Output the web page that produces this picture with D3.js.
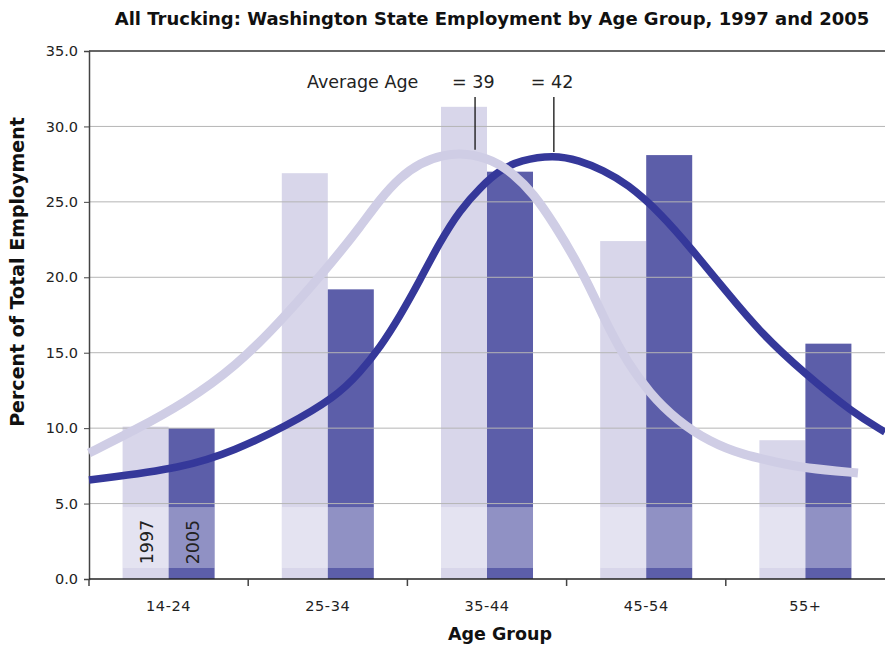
<!DOCTYPE html>
<html>
<head>
<meta charset="utf-8">
<script src="https://cdn.jsdelivr.net/npm/d3@7"></script>
<style>
  body { margin: 0; background: #fff; }
  svg { font-family: "DejaVu Sans", Verdana, sans-serif; }
</style>
</head>
<body>
<svg id="chart" width="885" height="645"></svg>
<script>
// age groups and bar values (percent of total employment)
const ageGroups = ["14-24", "25-34", "35-44", "45-54", "55+"];
const years = ["1997", "2005"];
const share1997 = [10.1, 26.9, 31.3, 22.4, 9.2];
const share2005 = [10.0, 19.2, 27.0, 28.1, 15.6];

// fitted curves, x in age-group units (0 = left edge of 14-24)
const curve1997 = [
  [0.0, 8.35], [0.29, 9.88], [0.6, 11.67], [0.92, 14.05], [1.23, 17.37],
  [1.55, 21.3], [1.7, 23.3], [1.83, 25.2], [1.95, 26.6], [2.08, 27.58],
  [2.22, 28.11], [2.37, 28.24], [2.54, 27.77], [2.66, 26.91], [2.79, 25.59],
  [2.93, 23.4], [3.06, 21.1], [3.17, 18.8], [3.27, 16.5], [3.38, 14.4],
  [3.52, 12.33], [3.69, 10.54], [3.9, 9.08], [4.11, 8.22], [4.34, 7.69],
  [4.49, 7.36], [4.83, 7.03]
];
const curve2005 = [
  [0.0, 6.56], [0.6, 7.36], [0.92, 8.55], [1.23, 10.08], [1.55, 12.06],
  [1.7, 13.66], [1.83, 15.38], [1.95, 17.37], [2.08, 19.82], [2.2, 22.27],
  [2.33, 24.46], [2.46, 25.98], [2.58, 27.11], [2.71, 27.77], [2.92, 28.11],
  [3.08, 27.75], [3.23, 27.1], [3.38, 26.2], [3.59, 24.26], [3.79, 21.81],
  [4.01, 18.96], [4.22, 16.31], [4.49, 13.66], [4.8, 11.0], [5.0, 9.74]
];

// average age markers
const avgLabels = ["= 39", "= 42"];
const avgPos = [2.425, 2.92];
const avgBottom = [28.45, 28.3];
const yTicks = [0, 5, 10, 15, 20, 25, 30, 35];

(function () {
  const svg = d3.select("#chart");
  const plotLeft = 89, plotRight = 885, plotTop = 51, plotBottom = 579;

  const x = d3.scaleLinear().domain([0, 5]).range([plotLeft, plotRight]);
  const band = d3.scaleBand().domain(ageGroups).range([plotLeft, plotRight])
    .paddingInner(0.422).paddingOuter(0.211);
  const sub = d3.scaleBand().domain(years).range([0, band.bandwidth()]);
  const y = d3.scaleLinear().domain([0, 35]).range([plotBottom, plotTop]);

  const colors = { "1997": "#d8d6ea", "2005": "#5c5ea9" };

  // bars
  const rows = ageGroups.map((g, i) => ({ group: g, vals: [share1997[i], share2005[i]] }));
  const groups = svg.append("g").selectAll("g").data(rows).join("g")
    .attr("transform", d => `translate(${band(d.group)},0)`);
  groups.selectAll("rect").data(d => d.vals.map((v, k) => ({ year: years[k], v })))
    .join("rect")
    .attr("x", d => sub(d.year))
    .attr("width", sub.bandwidth())
    .attr("y", d => y(d.v))
    .attr("height", d => y(0) - y(d.v))
    .attr("fill", d => colors[d.year]);

  // pale band near the base of the bars
  groups.append("rect")
    .attr("x", 0)
    .attr("width", band.bandwidth())
    .attr("y", y(4.77))
    .attr("height", y(0.73) - y(4.77))
    .attr("fill", "#fff")
    .attr("opacity", 0.32);

  // year labels inside the first pair of bars
  svg.append("g").selectAll("text").data(years).join("text")
    .attr("transform", d => `translate(${band(ageGroups[0]) + sub(d) + sub.bandwidth() / 2 + 7},${y(2.45)}) rotate(-90)`)
    .attr("text-anchor", "middle")
    .attr("font-size", 17.5)
    .attr("fill", "#222")
    .text(d => d);

  // gridlines
  svg.append("g").selectAll("line").data(yTicks.filter(t => t > 0)).join("line")
    .attr("x1", plotLeft).attr("x2", plotRight)
    .attr("y1", d => y(d)).attr("y2", d => y(d))
    .attr("stroke", d => d === 35 ? "#333" : "#b5b5b5")
    .attr("stroke-width", d => d === 35 ? 1.5 : 1);

  // y axis
  const yAxis = svg.append("g").attr("transform", `translate(${plotLeft},0)`)
    .call(d3.axisLeft(y).tickValues(yTicks).tickFormat(d3.format(".1f")).tickSize(5).tickPadding(6));
  yAxis.select(".domain").attr("stroke", "#444").attr("stroke-width", 1.5);
  yAxis.selectAll(".tick line").attr("stroke", "#444");
  yAxis.selectAll("text").attr("font-size", 14.5).attr("fill", "#222")
    .attr("font-family", "DejaVu Sans, sans-serif");

  // x axis
  svg.append("line")
    .attr("x1", plotLeft).attr("x2", plotRight).attr("y1", plotBottom).attr("y2", plotBottom)
    .attr("stroke", "#222").attr("stroke-width", 1.5);
  svg.append("g").selectAll("line").data(d3.range(0, 5)).join("line")
    .attr("x1", d => x(d)).attr("x2", d => x(d))
    .attr("y1", plotBottom).attr("y2", plotBottom + 7)
    .attr("stroke", "#444").attr("stroke-width", 1.5);
  svg.append("g").selectAll("text").data(ageGroups).join("text")
    .attr("x", d => band(d) + band.bandwidth() / 2)
    .attr("y", 611)
    .attr("text-anchor", "middle")
    .attr("font-size", 14.5)
    .attr("letter-spacing", 0.6)
    .attr("fill", "#222")
    .text(d => d);

  // curves
  const line = d3.line().x(d => x(d[0])).y(d => y(d[1])).curve(d3.curveBasis);
  svg.append("path").datum(curve2005)
    .attr("d", line).attr("fill", "none")
    .attr("stroke", "#35389a").attr("stroke-width", 7.5);
  svg.append("path").datum(curve1997)
    .attr("d", line).attr("fill", "none")
    .attr("stroke", "#cfcde5").attr("stroke-width", 9);

  // average age annotation
  svg.append("g").selectAll("line").data(avgPos).join("line")
    .attr("x1", d => x(d)).attr("x2", d => x(d))
    .attr("y1", y(31.95)).attr("y2", (d, i) => y(avgBottom[i]))
    .attr("stroke", "#111").attr("stroke-width", 1.3);
  svg.append("text")
    .attr("x", 307).attr("y", 88)
    .attr("font-size", 17.5).attr("fill", "#222")
    .text("Average Age");
  svg.append("g").selectAll("text").data(avgLabels).join("text")
    .attr("x", (d, i) => x(avgPos[i]) - 23)
    .attr("y", 88)
    .attr("font-size", 17.5).attr("fill", "#222")
    .text(d => d);

  // titles
  svg.append("text")
    .attr("x", 492).attr("y", 25)
    .attr("text-anchor", "middle")
    .attr("font-size", 18).attr("font-weight", "bold").attr("fill", "#111")
    .text("All Trucking: Washington State Employment by Age Group, 1997 and 2005");
  svg.append("text")
    .attr("x", 500).attr("y", 640)
    .attr("text-anchor", "middle")
    .attr("font-size", 17.5).attr("font-weight", "bold").attr("fill", "#111")
    .text("Age Group");
  svg.append("text")
    .attr("transform", "translate(24,272) rotate(-90)")
    .attr("text-anchor", "middle")
    .attr("font-size", 19).attr("font-weight", "bold").attr("fill", "#111")
    .text("Percent of Total Employment");
})();
</script>
</body>
</html>
